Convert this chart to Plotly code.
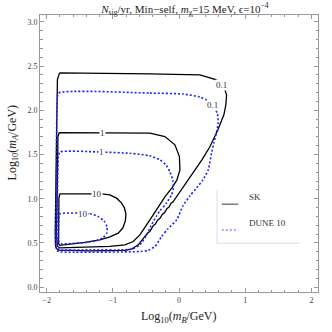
import plotly.graph_objects as go

# contour paths (x = log10 mB/GeV, y = log10 mA/GeV)
sk_01_x = [-1.80, -1.0, -0.44, 0.316, 0.568, 0.678, 0.719, 0.708, 0.678, 0.588, 0.467, 0.346, 0.24,
           0.074, -0.017, -0.09, -0.12, -0.15, -0.18, -0.22, -0.25, -0.29, -0.32, -0.36, -0.39, -0.44,
           -0.47, -0.541, -0.616, -0.711, -0.817, -1.346, -1.78, -1.83, -1.855, -1.867, -1.87, -1.86,
           -1.847, -1.837, -1.815, -1.80]
sk_01_y = [2.423, 2.418, 2.412, 2.401, 2.344, 2.265, 2.175, 2.062, 1.948, 1.779, 1.587, 1.44, 1.326,
           1.134, 1.044, 0.965, 0.95, 0.905, 0.89, 0.84, 0.825, 0.775, 0.76, 0.71, 0.695, 0.63,
           0.615, 0.554, 0.478, 0.433, 0.416, 0.41, 0.41, 0.418, 0.445, 0.478, 0.614, 1.066,
           1.813, 2.344, 2.40, 2.423]

sk_1_x = [-1.81, -1.16, -0.44, -0.213, -0.062, 0.006, 0.014, -0.031, -0.107, -0.213, -0.319, -0.39,
          -0.50, -0.591, -0.692, -0.817, -1.044, -1.346, -1.80, -1.835, -1.852, -1.84, -1.829, -1.81]
sk_1_y = [1.748, 1.748, 1.742, 1.703, 1.609, 1.477, 1.326, 1.213, 1.123, 1.021, 0.908, 0.818,
          0.693, 0.591, 0.516, 0.478, 0.461, 0.452, 0.444, 0.46, 0.591, 1.066, 1.70, 1.748]

sk_10_x = [-1.80, -1.169, -1.044, -0.943, -0.87, -0.825, -0.802, -0.81, -0.847, -0.918, -1.044,
           -1.195, -1.421, -1.648, -1.80, -1.82, -1.82, -1.814, -1.80]
sk_10_y = [1.055, 1.055, 1.044, 1.006, 0.953, 0.897, 0.829, 0.75, 0.671, 0.611, 0.569,
           0.535, 0.507, 0.486, 0.473, 0.49, 0.535, 1.01, 1.055]

dune_01_x = [-1.82, -0.44, 0.063, 0.316, 0.437, 0.528, 0.58, 0.592, 0.565, 0.528, 0.492, 0.441,
             0.361, 0.266, 0.165, 0.059, -0.036, -0.168, -0.263, -0.364, -0.47, -0.591, -1.80,
             -1.835, -1.855, -1.862, -1.852, -1.84, -1.82]
dune_01_y = [2.194, 2.194, 2.183, 2.149, 2.107, 2.039, 1.96, 1.858, 1.745, 1.632, 1.519, 1.326,
             1.213, 1.123, 1.032, 0.919, 0.761, 0.659, 0.572, 0.459, 0.416, 0.403, 0.399,
             0.408, 0.44, 0.614, 1.44, 2.118, 2.194]

dune_1_x = [-1.80, -1.169, -0.742, -0.44, -0.289, -0.198, -0.138, -0.092, -0.085, -0.112, -0.198,
            -0.289, -0.338, -0.425, -0.489, -0.591, -0.696, -0.817, -1.346, -1.80, -1.835,
            -1.844, -1.837, -1.822, -1.80]
dune_1_y = [1.527, 1.527, 1.513, 1.485, 1.44, 1.383, 1.304, 1.202, 1.123, 1.044, 0.942,
            0.863, 0.806, 0.693, 0.591, 0.478, 0.433, 0.422, 0.422, 0.422, 0.44,
            0.535, 0.987, 1.473, 1.527]

dune_10_x = [-1.80, -1.345, -1.221, -1.134, -1.089, -1.089, -1.15, -1.255, -1.421, -1.648, -1.773,
             -1.814, -1.814, -1.80]
dune_10_y = [0.829, 0.829, 0.798, 0.75, 0.682, 0.614, 0.557, 0.524, 0.504, 0.493, 0.49,
             0.512, 0.784, 0.829]

# contour labels: (text, x, y)
labels = [("0.1", 0.645, 2.28), ("0.1", 0.50, 2.06), ("1", -1.16, 1.748), ("1", -1.169, 1.527),
          ("10", -1.245, 1.055), ("10", -1.447, 0.829)]

SERIF = "Liberation Serif"
SK_COL = "black"
DUNE_COL = "#1f1fff"
DOTS = "2px,2px"

fig = go.Figure()
for xs, ys in [(sk_01_x, sk_01_y), (sk_1_x, sk_1_y), (sk_10_x, sk_10_y)]:
    fig.add_trace(go.Scatter(x=xs, y=ys, mode="lines", line=dict(color=SK_COL, width=1.3),
                             hoverinfo="skip", showlegend=False))
for xs, ys in [(dune_01_x, dune_01_y), (dune_1_x, dune_1_y), (dune_10_x, dune_10_y)]:
    fig.add_trace(go.Scatter(x=xs, y=ys, mode="lines",
                             line=dict(color=DUNE_COL, width=1.6, dash=DOTS, shape="spline", smoothing=0.6),
                             hoverinfo="skip", showlegend=False))

for txt, x, y in labels:
    fig.add_annotation(x=x, y=y, text=txt, showarrow=False, bgcolor="white",
                       font=dict(family=SERIF, size=9, color="#333"), borderpad=0)

# hand-drawn legend box (left + bottom edges only, like the original)
fig.add_shape(type="line", xref="paper", yref="paper", x0=0.637, x1=0.637, y0=0.176, y1=0.368,
              line=dict(color="#dddddd", width=1))
fig.add_shape(type="line", xref="paper", yref="paper", x0=0.637, x1=0.933, y0=0.176, y1=0.176,
              line=dict(color="#dddddd", width=1))
fig.add_shape(type="line", xref="paper", yref="paper", x0=0.654, x1=0.713, y0=0.317, y1=0.317,
              line=dict(color="#666666", width=1.3))
fig.add_shape(type="line", xref="paper", yref="paper", x0=0.654, x1=0.713, y0=0.224, y1=0.224,
              line=dict(color="#8a8aff", width=1.6, dash=DOTS))
for txt, y in [("SK", 0.317), ("DUNE 10", 0.224)]:
    fig.add_annotation(xref="paper", yref="paper", x=0.743, y=y, text=txt, showarrow=False,
                       xanchor="left", font=dict(family=SERIF, size=9, color="#333"))

# axis titles as annotations so they sit where the original has them
fig.add_annotation(xref="paper", yref="paper", x=0.5, y=-0.089, yanchor="middle", showarrow=False,
                   text="Log<sub>10</sub>(<i>m<sub>B</sub></i>/GeV)",
                   font=dict(family=SERIF, size=12, color="#222"))
fig.add_annotation(xref="paper", yref="paper", x=-0.097, y=0.54, xanchor="center", showarrow=False,
                   textangle=-90, text="Log<sub>10</sub>(<i>m<sub>A</sub></i>/GeV)",
                   font=dict(family=SERIF, size=12, color="#222"))

axis_common = dict(showgrid=False, zeroline=False, showline=True, linecolor="#999", linewidth=1,
                   mirror="ticks", ticks="inside", tickcolor="#999", ticklen=4,
                   tickfont=dict(family=SERIF, size=8, color="#444"))
fig.update_layout(
    width=332, height=332, margin=dict(l=40, r=14, t=15, b=40),
    plot_bgcolor="white", paper_bgcolor="white",
    title=dict(text="<i>N</i><sub>sig</sub>/yr, Min\u2212self, <i>m</i><sub>\u03c7</sub>=15 MeV, \u03f5=10<sup>\u22124</sup>",
               x=0.557, xanchor="center", y=0.985, yanchor="top",
               font=dict(family=SERIF, size=11, color="#222")),
    xaxis=dict(range=[-2.1, 2.1], tickvals=[-2, -1, 0, 1, 2],
               minor=dict(dtick=0.2, tick0=0, ticks="inside", ticklen=2, tickcolor="#999"),
               **axis_common),
    yaxis=dict(range=[-0.055, 3.077], tickvals=[0, 0.5, 1, 1.5, 2, 2.5, 3], ticktext=["0.0", "0.5", "1.0", "1.5", "2.0", "2.5", "3.0"],
               minor=dict(dtick=0.1, tick0=0, ticks="inside", ticklen=2.5, tickcolor="#999"),
               **axis_common),
)

# the page's default body margin would shift the 332px figure; drop it
fig.write_html("out.html", config={"displayModeBar": False},
               post_script="document.body.style.margin='0';")
